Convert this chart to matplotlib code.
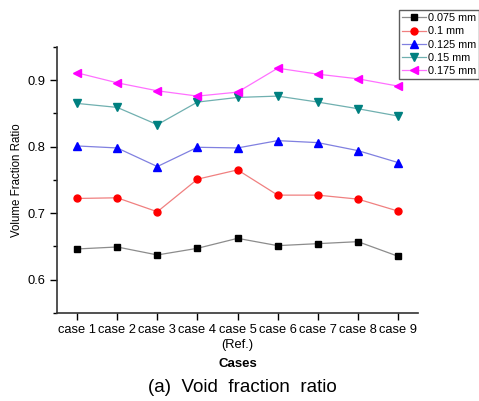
import numpy as np
import matplotlib.pyplot as plt
from matplotlib.ticker import MultipleLocator

plt.rcParams['font.family'] = ['Liberation Sans', 'DejaVu Sans']

# data
cases = ['case 1', 'case 2', 'case 3', 'case 4', 'case 5\n(Ref.)',
         'case 6', 'case 7', 'case 8', 'case 9']
s_0075 = [0.646, 0.649, 0.637, 0.647, 0.662, 0.651, 0.654, 0.657, 0.635]
s_01 = [0.722, 0.723, 0.702, 0.751, 0.765, 0.727, 0.727, 0.721, 0.703]
s_0125 = [0.801, 0.798, 0.770, 0.799, 0.798, 0.809, 0.806, 0.794, 0.776]
s_015 = [0.865, 0.859, 0.833, 0.867, 0.874, 0.876, 0.867, 0.857, 0.846]
s_0175 = [0.911, 0.896, 0.884, 0.876, 0.882, 0.918, 0.909, 0.902, 0.891]
labels = ['0.075 mm', '0.1 mm', '0.125 mm', '0.15 mm', '0.175 mm']

series = [s_0075, s_01, s_0125, s_015, s_0175]
markers = ['s', 'o', '^', 'v', '<']
msizes = [4.4, 5.0, 5.6, 5.6, 5.6]
mcolors = ['#000000', '#ff0000', '#0000ff', '#008080', '#ff00ff']
lcolors = ['#8c8c8c', '#f08080', '#8080e0', '#70b0b0', '#ff70ff']

fig = plt.figure(figsize=(4.79, 4.01), dpi=100)
ax = fig.add_axes([0.119, 0.220, 0.754, 0.663])

x = np.arange(1, len(cases) + 1)
handles = []
for ys, m, ms, mc, lc, lab in zip(series, markers, msizes, mcolors, lcolors, labels):
    h, = ax.plot(x, ys, color=lc, lw=0.9, marker=m, ms=ms,
                 mfc=mc, mec=mc, label=lab)
    handles.append(h)

ax.set_xlim(0.5, 9.5)
ax.set_ylim(0.55, 0.95)
ax.set_xticks(x)
ax.set_xticklabels(cases, fontsize=9.3, linespacing=1.3)
ax.yaxis.set_major_locator(MultipleLocator(0.1))
ax.yaxis.set_minor_locator(MultipleLocator(0.05))
ax.tick_params(axis='y', labelsize=9.3, direction='out', length=5, width=1)
ax.tick_params(axis='y', which='minor', direction='out', length=3, width=1)
ax.tick_params(axis='x', direction='out', length=5, width=1, pad=3)
ax.spines['top'].set_visible(False)
ax.spines['right'].set_visible(False)
ax.spines['left'].set_color('#333333')
ax.spines['bottom'].set_color('#333333')
ax.spines['left'].set_linewidth(1.2)
ax.spines['bottom'].set_linewidth(1.2)

ax.set_ylabel('Volume Fraction Ratio', fontsize=8.3, labelpad=3)
ax.set_xlabel('Cases', fontsize=9.5, fontweight='bold', labelpad=5)

fig.legend(handles=handles, loc='upper right', bbox_to_anchor=(1.0, 0.974),
           prop={'size': 7.8}, frameon=True, fancybox=False,
           edgecolor='#333333', handlelength=2.3, handletextpad=0.15,
           labelspacing=0.3, borderpad=0.25, borderaxespad=0,
           markerscale=1.0)

fig.text(0.505, 0.012, '(a)  Void  fraction  ratio', ha='center', va='bottom',
         fontsize=13.5)

fig.savefig('out.png', dpi=100)
